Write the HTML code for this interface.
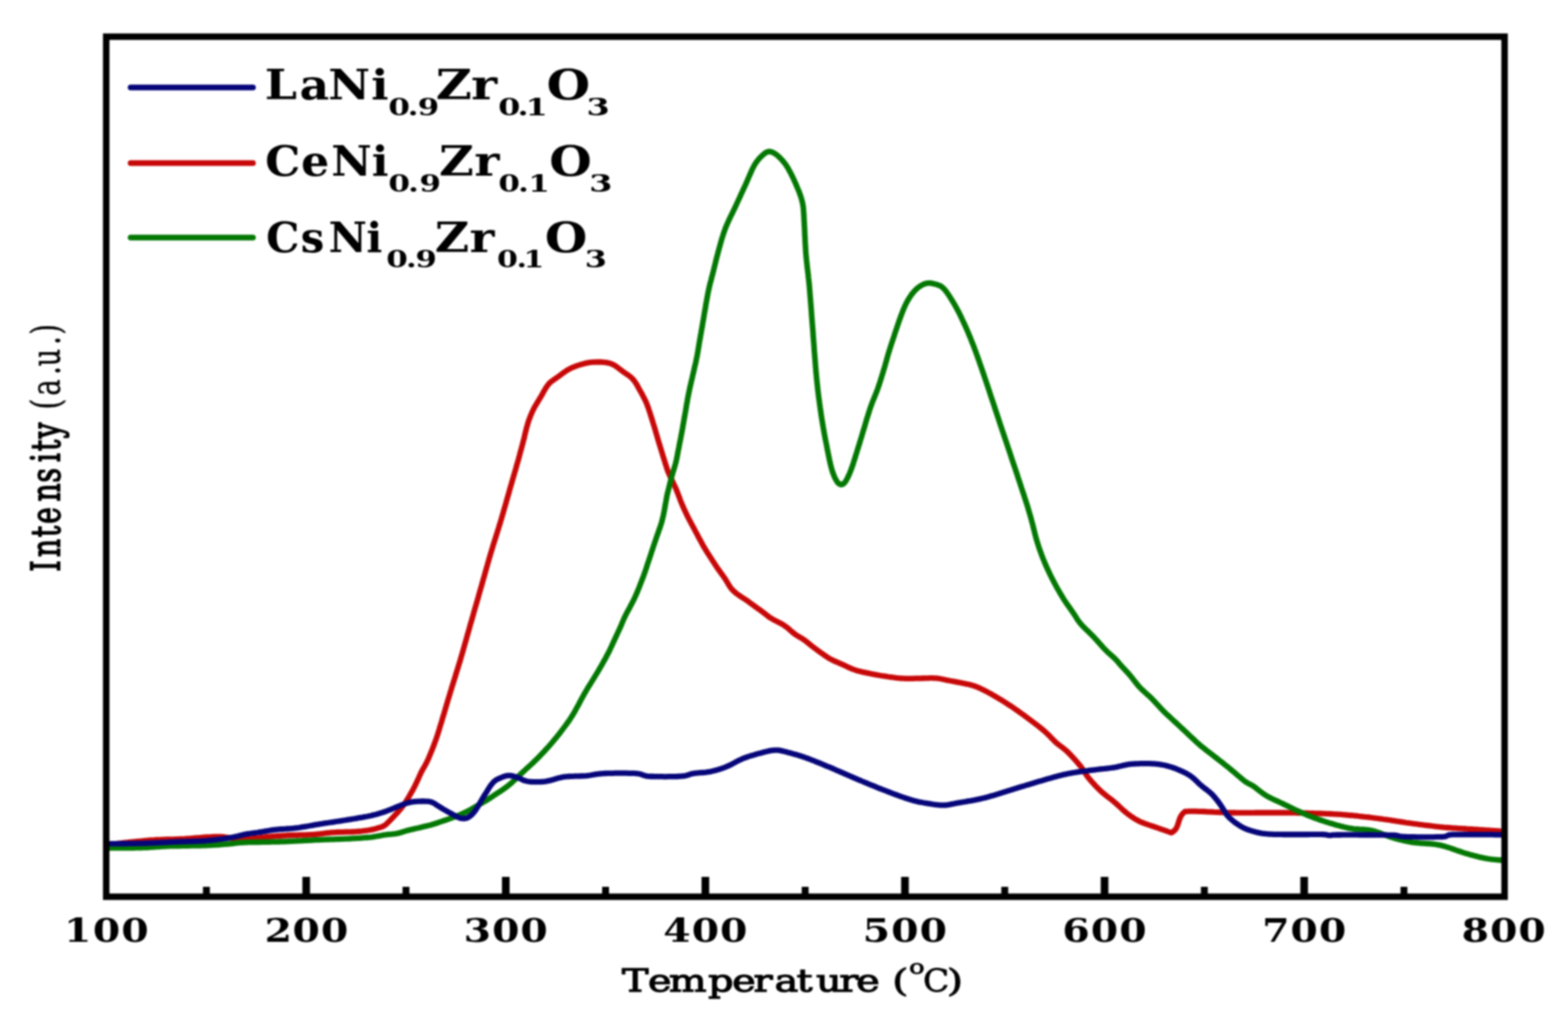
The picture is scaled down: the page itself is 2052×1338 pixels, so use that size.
<!DOCTYPE html><html><head><meta charset="utf-8"><style>html,body{margin:0;padding:0;background:#fff}svg{display:block;filter:blur(0.8px)}</style></head><body>
<svg width="2052" height="1338" viewBox="0 0 2052 1338">
<rect width="2052" height="1338" fill="#fff"/>
<g fill="none" stroke-width="7.3" stroke-linejoin="round" stroke-linecap="round">
<path stroke="#c80808" d="M140.0 1106.0L142.5 1105.7L145.0 1105.4L147.5 1105.1L149.9 1104.8L152.4 1104.5L154.9 1104.2L157.4 1104.0L159.9 1103.7L162.4 1103.4L164.9 1103.1L167.3 1102.8L169.8 1102.5L172.3 1102.3L174.8 1102.0L177.3 1101.8L179.8 1101.5L182.3 1101.3L184.8 1101.1L187.3 1100.8L189.8 1100.6L192.2 1100.4L194.7 1100.2L197.2 1100.0L199.7 1099.8L202.2 1099.7L204.7 1099.5L207.2 1099.4L209.7 1099.3L212.2 1099.2L214.7 1099.1L217.2 1099.0L219.7 1099.0L222.2 1098.9L224.7 1098.8L227.2 1098.8L229.7 1098.7L232.2 1098.6L234.7 1098.5L237.2 1098.4L239.7 1098.3L242.2 1098.2L244.7 1098.0L247.2 1097.8L249.7 1097.6L252.2 1097.4L254.7 1097.2L257.2 1097.0L259.7 1096.8L262.2 1096.6L264.7 1096.4L267.2 1096.2L269.7 1096.0L272.2 1095.9L274.7 1095.8L277.2 1095.6L279.7 1095.5L282.2 1095.5L284.7 1095.4L287.2 1095.5L289.7 1095.5L292.2 1095.7L294.7 1096.0L297.1 1096.3L299.6 1096.7L302.1 1097.1L304.6 1097.4L307.0 1097.8L309.5 1098.2L312.0 1098.6L314.5 1098.8L317.0 1098.9L319.5 1098.9L322.0 1098.8L324.5 1098.6L327.0 1098.4L329.4 1098.1L331.9 1097.7L334.4 1097.4L336.9 1097.1L339.4 1096.8L341.9 1096.4L344.3 1096.1L346.8 1095.9L349.3 1095.6L351.8 1095.4L354.3 1095.2L356.8 1095.0L359.3 1094.8L361.8 1094.6L364.3 1094.4L366.8 1094.3L369.3 1094.1L371.8 1094.0L374.3 1093.8L376.8 1093.7L379.3 1093.6L381.8 1093.5L384.3 1093.4L386.8 1093.3L389.3 1093.3L391.8 1093.2L394.3 1093.2L396.8 1093.1L399.3 1093.1L401.8 1093.0L404.3 1092.9L406.8 1092.7L409.3 1092.6L411.8 1092.3L414.3 1092.1L416.8 1091.8L419.2 1091.6L421.7 1091.3L424.2 1091.0L426.7 1090.7L429.2 1090.4L431.7 1090.2L434.2 1089.9L436.7 1089.8L439.2 1089.6L441.7 1089.5L444.2 1089.4L446.7 1089.3L449.2 1089.3L451.7 1089.2L454.2 1089.2L456.7 1089.1L459.2 1089.1L461.7 1089.0L464.2 1088.9L466.7 1088.7L469.2 1088.5L471.7 1088.3L474.1 1088.0L476.6 1087.7L479.1 1087.4L481.6 1087.0L484.0 1086.6L486.5 1086.1L488.9 1085.6L491.4 1085.0L493.8 1084.3L496.2 1083.6L498.6 1082.9L500.9 1082.0L503.1 1080.8L505.1 1079.3L507.0 1077.6L508.7 1075.8L510.5 1074.0L512.2 1072.2L513.9 1070.4L515.7 1068.6L517.4 1066.8L519.1 1065.0L520.8 1063.1L522.4 1061.2L524.0 1059.3L525.6 1057.4L527.1 1055.4L528.6 1053.4L530.1 1051.3L531.4 1049.2L532.7 1047.1L534.0 1045.0L535.3 1042.8L536.5 1040.6L537.8 1038.5L539.0 1036.3L540.3 1034.1L541.4 1031.9L542.6 1029.7L543.7 1027.4L544.8 1025.2L545.8 1022.9L546.9 1020.6L547.9 1018.4L548.9 1016.1L550.0 1013.8L551.0 1011.5L552.2 1009.3L553.4 1007.1L554.6 1004.9L555.9 1002.8L557.1 1000.6L558.2 998.4L559.3 996.1L560.4 993.8L561.4 991.5L562.3 989.2L563.3 986.9L564.2 984.6L565.2 982.3L566.1 980.0L567.0 977.6L567.9 975.3L568.8 972.9L569.6 970.6L570.5 968.2L571.3 965.9L572.1 963.5L572.9 961.1L573.6 958.7L574.4 956.4L575.1 954.0L575.8 951.6L576.5 949.2L577.3 946.8L578.0 944.4L578.7 942.0L579.4 939.6L580.1 937.2L580.9 934.8L581.6 932.4L582.3 930.0L583.0 927.6L583.7 925.2L584.4 922.8L585.1 920.4L585.8 918.0L586.5 915.6L587.3 913.2L588.0 910.8L588.7 908.4L589.4 906.0L590.2 903.6L590.9 901.2L591.6 898.8L592.4 896.4L593.1 894.1L593.9 891.7L594.6 889.3L595.4 886.9L596.1 884.5L596.8 882.1L597.6 879.7L598.3 877.3L599.1 874.9L599.8 872.5L600.5 870.1L601.3 867.8L602.0 865.4L602.7 863.0L603.4 860.6L604.1 858.2L604.8 855.8L605.5 853.4L606.2 850.9L606.9 848.5L607.6 846.1L608.2 843.7L608.9 841.3L609.6 838.9L610.3 836.5L611.0 834.1L611.6 831.7L612.3 829.3L613.0 826.9L613.7 824.5L614.4 822.1L615.0 819.6L615.7 817.2L616.4 814.8L617.1 812.4L617.8 810.0L618.5 807.6L619.2 805.2L619.8 802.8L620.5 800.4L621.2 798.0L621.9 795.6L622.6 793.2L623.3 790.8L624.0 788.4L624.7 786.0L625.4 783.6L626.1 781.2L626.7 778.7L627.4 776.3L628.1 773.9L628.8 771.5L629.5 769.1L630.2 766.7L630.9 764.3L631.5 761.9L632.2 759.5L632.9 757.1L633.6 754.7L634.3 752.3L634.9 749.9L635.6 747.4L636.3 745.0L637.0 742.6L637.7 740.2L638.3 737.8L639.0 735.4L639.7 733.0L640.4 730.6L641.1 728.2L641.8 725.8L642.5 723.4L643.3 721.0L644.0 718.6L644.7 716.2L645.4 713.8L646.2 711.4L646.9 709.0L647.7 706.7L648.4 704.3L649.2 701.9L649.9 699.5L650.7 697.1L651.4 694.7L652.2 692.3L652.9 689.9L653.6 687.5L654.4 685.2L655.1 682.8L655.8 680.4L656.5 678.0L657.2 675.6L657.9 673.2L658.6 670.7L659.3 668.3L660.0 665.9L660.7 663.5L661.4 661.1L662.1 658.7L662.7 656.3L663.4 653.9L664.1 651.5L664.8 649.1L665.5 646.7L666.2 644.3L666.8 641.9L667.5 639.5L668.2 637.1L668.9 634.7L669.6 632.2L670.3 629.8L671.0 627.4L671.7 625.0L672.4 622.6L673.1 620.2L673.8 617.8L674.5 615.4L675.2 613.0L675.8 610.6L676.5 608.2L677.2 605.8L677.9 603.4L678.6 601.0L679.2 598.6L679.9 596.2L680.5 593.7L681.2 591.3L681.8 588.9L682.5 586.5L683.1 584.1L683.8 581.7L684.4 579.2L685.0 576.8L685.7 574.4L686.3 572.0L686.8 569.5L687.4 567.1L688.0 564.7L688.6 562.2L689.2 559.8L689.9 557.4L690.6 555.0L691.3 552.6L692.1 550.2L693.0 547.9L693.9 545.5L694.8 543.2L695.8 540.9L696.8 538.6L697.9 536.4L699.0 534.1L700.2 531.9L701.5 529.8L702.8 527.6L704.1 525.5L705.4 523.4L706.7 521.2L708.0 519.1L709.2 516.9L710.4 514.7L711.6 512.5L712.9 510.4L714.2 508.2L715.5 506.1L717.0 504.1L718.6 502.2L720.4 500.4L722.4 498.9L724.4 497.4L726.5 496.0L728.5 494.6L730.6 493.1L732.6 491.6L734.6 490.1L736.6 488.6L738.6 487.2L740.7 485.8L742.8 484.4L745.0 483.2L747.2 482.1L749.5 481.0L751.8 480.1L754.1 479.2L756.5 478.4L758.9 477.6L761.3 476.9L763.7 476.2L766.1 475.6L768.6 475.1L771.0 474.7L773.5 474.4L776.0 474.2L778.5 474.1L781.0 474.0L783.5 473.9L786.0 474.0L788.5 474.1L791.0 474.3L793.5 474.6L795.9 475.1L798.4 475.7L800.7 476.6L803.0 477.6L805.2 478.9L807.2 480.3L809.2 481.8L811.2 483.3L813.2 484.9L815.2 486.4L817.2 487.8L819.3 489.2L821.4 490.6L823.4 492.1L825.4 493.6L827.2 495.3L828.9 497.2L830.4 499.1L831.8 501.2L833.2 503.3L834.4 505.5L835.6 507.7L836.8 509.9L838.0 512.1L839.3 514.3L840.5 516.4L841.6 518.7L842.8 520.9L843.9 523.1L845.0 525.4L846.0 527.7L846.9 530.0L847.8 532.3L848.6 534.7L849.4 537.1L850.2 539.4L851.0 541.8L851.7 544.2L852.5 546.6L853.2 549.0L854.0 551.4L854.7 553.8L855.4 556.2L856.2 558.6L856.9 560.9L857.6 563.3L858.3 565.7L859.0 568.2L859.7 570.6L860.4 573.0L861.1 575.4L861.8 577.8L862.5 580.2L863.3 582.5L864.0 584.9L864.7 587.3L865.4 589.7L866.2 592.1L866.9 594.5L867.6 596.9L868.4 599.3L869.1 601.7L869.9 604.1L870.6 606.5L871.4 608.9L872.1 611.2L872.9 613.6L873.7 616.0L874.6 618.3L875.6 620.6L876.6 622.9L877.7 625.2L878.8 627.4L879.8 629.7L880.9 631.9L882.0 634.2L883.1 636.5L884.1 638.7L885.1 641.0L886.0 643.4L886.9 645.7L887.8 648.0L888.7 650.4L889.6 652.7L890.4 655.1L891.4 657.4L892.3 659.7L893.3 662.0L894.3 664.3L895.3 666.6L896.4 668.9L897.4 671.1L898.5 673.4L899.6 675.6L900.7 677.9L901.9 680.1L903.0 682.3L904.2 684.5L905.4 686.7L906.6 688.9L907.7 691.1L908.9 693.3L910.1 695.6L911.3 697.8L912.5 700.0L913.6 702.2L914.8 704.4L916.0 706.6L917.2 708.8L918.4 711.0L919.6 713.2L920.8 715.4L922.1 717.5L923.4 719.6L924.7 721.8L926.0 723.9L927.4 726.0L928.7 728.1L930.1 730.2L931.4 732.3L932.8 734.4L934.2 736.5L935.5 738.6L936.9 740.7L938.3 742.8L939.7 744.8L941.2 746.9L942.6 748.9L944.1 751.0L945.6 753.0L947.0 755.0L948.5 757.1L949.8 759.2L951.1 761.3L952.4 763.5L953.6 765.6L955.0 767.7L956.4 769.8L958.0 771.7L959.8 773.5L961.6 775.2L963.6 776.8L965.6 778.3L967.6 779.7L969.7 781.1L971.8 782.5L973.9 783.8L976.0 785.2L978.0 786.6L980.1 788.1L982.1 789.6L984.1 791.1L986.1 792.5L988.1 794.0L990.2 795.5L992.2 796.9L994.2 798.4L996.3 799.8L998.3 801.3L1000.3 802.9L1002.2 804.4L1004.2 806.0L1006.2 807.5L1008.2 808.9L1010.4 810.2L1012.5 811.5L1014.7 812.6L1017.0 813.7L1019.2 814.9L1021.5 816.0L1023.7 817.2L1025.8 818.5L1027.8 819.9L1029.8 821.4L1031.8 823.0L1033.6 824.7L1035.5 826.3L1037.4 828.0L1039.4 829.5L1041.4 831.0L1043.5 832.3L1045.7 833.6L1047.8 834.9L1050.0 836.2L1052.1 837.6L1054.1 839.0L1056.1 840.6L1058.0 842.1L1059.9 843.7L1061.9 845.3L1063.9 846.8L1065.9 848.3L1067.9 849.8L1069.9 851.3L1071.9 852.8L1073.9 854.3L1076.0 855.7L1078.0 857.2L1080.1 858.6L1082.1 860.0L1084.2 861.3L1086.4 862.6L1088.6 863.8L1090.9 864.9L1093.1 865.9L1095.4 866.9L1097.7 867.9L1100.0 868.9L1102.3 869.9L1104.6 870.9L1106.9 872.0L1109.1 873.1L1111.4 874.1L1113.7 875.1L1116.0 876.1L1118.4 876.9L1120.7 877.7L1123.1 878.4L1125.6 879.0L1128.0 879.6L1130.4 880.1L1132.9 880.6L1135.3 881.2L1137.8 881.7L1140.2 882.2L1142.7 882.7L1145.1 883.2L1147.6 883.6L1150.1 884.0L1152.5 884.5L1155.0 884.9L1157.5 885.2L1160.0 885.6L1162.4 886.0L1164.9 886.3L1167.4 886.7L1169.9 887.0L1172.3 887.4L1174.8 887.7L1177.3 887.9L1179.8 888.1L1182.3 888.2L1184.8 888.3L1187.3 888.3L1189.8 888.3L1192.3 888.3L1194.8 888.3L1197.3 888.2L1199.8 888.2L1202.3 888.1L1204.8 888.1L1207.3 888.0L1209.8 887.9L1212.3 887.8L1214.8 887.8L1217.3 887.7L1219.8 887.7L1222.3 887.8L1224.8 887.9L1227.3 888.1L1229.8 888.5L1232.3 889.0L1234.7 889.5L1237.1 890.0L1239.6 890.6L1242.1 891.0L1244.5 891.5L1247.0 891.9L1249.4 892.3L1251.9 892.8L1254.4 893.3L1256.8 893.8L1259.3 894.3L1261.7 894.8L1264.2 895.3L1266.6 895.8L1269.1 896.3L1271.5 897.0L1273.9 897.7L1276.2 898.5L1278.6 899.4L1280.9 900.4L1283.2 901.4L1285.4 902.5L1287.7 903.6L1289.9 904.7L1292.1 905.9L1294.3 907.1L1296.5 908.3L1298.7 909.5L1300.8 910.8L1303.0 912.0L1305.2 913.3L1307.3 914.6L1309.5 915.9L1311.6 917.2L1313.7 918.5L1315.8 919.8L1317.9 921.2L1320.0 922.6L1322.1 923.9L1324.2 925.3L1326.3 926.7L1328.3 928.2L1330.4 929.6L1332.4 931.0L1334.5 932.5L1336.5 933.9L1338.6 935.4L1340.6 936.8L1342.6 938.3L1344.6 939.8L1346.6 941.3L1348.6 942.8L1350.6 944.3L1352.6 945.8L1354.6 947.3L1356.6 948.9L1358.6 950.4L1360.5 952.0L1362.5 953.5L1364.4 955.1L1366.3 956.7L1368.2 958.4L1370.0 960.1L1371.8 961.8L1373.6 963.6L1375.3 965.4L1377.0 967.2L1378.8 969.0L1380.5 970.8L1382.4 972.5L1384.3 974.1L1386.3 975.6L1388.3 977.1L1390.3 978.6L1392.3 980.2L1394.2 981.8L1396.1 983.4L1397.9 985.2L1399.6 986.9L1401.4 988.7L1403.1 990.6L1404.8 992.4L1406.5 994.3L1408.1 996.1L1409.8 998.0L1411.4 999.9L1413.0 1001.8L1414.5 1003.8L1416.0 1005.8L1417.4 1007.9L1418.8 1010.0L1420.1 1012.1L1421.5 1014.2L1422.9 1016.3L1424.4 1018.3L1426.0 1020.2L1427.6 1022.1L1429.3 1024.0L1431.0 1025.8L1432.7 1027.7L1434.4 1029.5L1436.1 1031.3L1437.9 1033.0L1439.7 1034.8L1441.5 1036.5L1443.4 1038.1L1445.3 1039.7L1447.3 1041.3L1449.2 1042.9L1451.2 1044.4L1453.2 1045.9L1455.2 1047.4L1457.1 1049.0L1459.0 1050.6L1460.9 1052.3L1462.8 1054.0L1464.6 1055.7L1466.4 1057.4L1468.3 1059.1L1470.1 1060.8L1472.0 1062.4L1473.9 1064.0L1475.9 1065.6L1477.9 1067.1L1479.9 1068.5L1482.0 1069.9L1484.1 1071.3L1486.2 1072.6L1488.4 1073.8L1490.6 1075.0L1492.9 1076.1L1495.2 1077.0L1497.5 1077.9L1499.9 1078.8L1502.2 1079.6L1504.6 1080.4L1507.0 1081.2L1509.4 1082.0L1511.7 1082.8L1514.1 1083.6L1516.5 1084.4L1518.8 1085.3L1521.2 1086.1L1523.5 1086.9L1525.9 1087.7L1528.3 1088.6L1530.6 1089.4L1533.0 1090.2L1535.2 1088.8L1537.2 1087.1L1538.9 1085.1L1540.1 1082.8L1541.1 1080.4L1541.9 1077.9L1542.7 1075.4L1543.5 1072.9L1544.4 1070.5L1545.6 1068.2L1547.1 1066.0L1548.9 1064.1L1550.8 1062.3L1553.3 1062.3L1555.8 1062.2L1558.3 1062.2L1560.8 1062.2L1563.3 1062.2L1565.8 1062.2L1568.3 1062.3L1570.8 1062.3L1573.3 1062.4L1575.8 1062.5L1578.3 1062.6L1580.8 1062.8L1583.3 1062.9L1585.8 1063.0L1588.3 1063.2L1590.8 1063.3L1593.3 1063.4L1595.8 1063.5L1598.3 1063.6L1600.8 1063.7L1603.3 1063.8L1605.8 1063.9L1608.3 1063.9L1610.8 1064.0L1613.3 1064.0L1615.8 1064.0L1618.3 1064.1L1620.8 1064.1L1623.3 1064.1L1625.8 1064.1L1628.3 1064.1L1630.8 1064.1L1633.3 1064.1L1635.8 1064.1L1638.3 1064.1L1640.8 1064.1L1643.3 1064.0L1645.8 1064.0L1648.3 1064.0L1650.8 1064.0L1653.3 1064.0L1655.8 1064.0L1658.3 1064.0L1660.8 1064.0L1663.3 1064.0L1665.8 1064.0L1668.3 1064.0L1670.8 1064.0L1673.3 1064.0L1675.8 1064.0L1678.3 1064.0L1680.8 1064.0L1683.3 1064.0L1685.8 1064.1L1688.3 1064.1L1690.8 1064.1L1693.3 1064.2L1695.8 1064.2L1698.3 1064.3L1700.8 1064.3L1703.3 1064.3L1705.8 1064.4L1708.3 1064.5L1710.8 1064.5L1713.3 1064.6L1715.8 1064.6L1718.3 1064.7L1720.8 1064.8L1723.3 1064.8L1725.8 1064.9L1728.3 1065.0L1730.8 1065.1L1733.3 1065.2L1735.8 1065.3L1738.3 1065.4L1740.7 1065.5L1743.2 1065.6L1745.7 1065.8L1748.2 1065.9L1750.7 1066.1L1753.2 1066.2L1755.7 1066.4L1758.2 1066.6L1760.7 1066.8L1763.2 1067.0L1765.7 1067.3L1768.2 1067.5L1770.7 1067.7L1773.2 1068.0L1775.6 1068.2L1778.1 1068.5L1780.6 1068.8L1783.1 1069.1L1785.6 1069.4L1788.1 1069.6L1790.5 1069.9L1793.0 1070.2L1795.5 1070.5L1798.0 1070.9L1800.5 1071.2L1802.9 1071.5L1805.4 1071.8L1807.9 1072.1L1810.4 1072.5L1812.9 1072.8L1815.3 1073.2L1817.8 1073.5L1820.3 1073.9L1822.7 1074.3L1825.2 1074.7L1827.7 1075.1L1830.2 1075.4L1832.6 1075.8L1835.1 1076.2L1837.6 1076.6L1840.0 1077.0L1842.5 1077.3L1845.0 1077.7L1847.5 1078.0L1849.9 1078.4L1852.4 1078.7L1854.9 1079.0L1857.4 1079.4L1859.9 1079.7L1862.3 1080.0L1864.8 1080.3L1867.3 1080.6L1869.8 1080.9L1872.3 1081.2L1874.7 1081.5L1877.2 1081.8L1879.7 1082.1L1882.2 1082.3L1884.7 1082.6L1887.2 1082.8L1889.7 1083.1L1892.2 1083.3L1894.6 1083.5L1897.1 1083.7L1899.6 1083.9L1902.1 1084.1L1904.6 1084.2L1907.1 1084.4L1909.6 1084.6L1912.1 1084.7L1914.6 1084.9L1917.1 1085.0L1919.6 1085.2L1922.1 1085.3L1924.6 1085.4L1927.1 1085.6L1929.6 1085.8L1932.1 1085.9L1934.6 1086.1L1937.1 1086.3L1939.6 1086.4L1942.0 1086.6L1944.5 1086.8L1947.0 1086.9L1949.5 1087.1L1952.0 1087.3L1954.5 1087.5L1957.0 1087.6L1959.5 1087.8L1962.0 1088.0"/>
<path stroke="#037803" d="M140.0 1110.0L142.5 1110.0L145.0 1110.0L147.5 1110.0L150.0 1110.0L152.5 1110.0L155.0 1110.0L157.5 1110.0L160.0 1110.0L162.5 1110.0L165.0 1110.0L167.5 1110.0L170.0 1110.0L172.5 1110.0L175.0 1110.0L177.5 1109.9L180.0 1109.9L182.5 1109.8L185.0 1109.8L187.5 1109.7L190.0 1109.6L192.5 1109.5L195.0 1109.3L197.5 1109.2L200.0 1109.0L202.5 1108.8L205.0 1108.6L207.5 1108.5L210.0 1108.3L212.5 1108.2L215.0 1108.0L217.5 1107.9L220.0 1107.8L222.5 1107.7L225.0 1107.7L227.5 1107.6L230.0 1107.5L232.5 1107.5L235.0 1107.5L237.5 1107.4L240.0 1107.4L242.5 1107.3L245.0 1107.3L247.5 1107.3L250.0 1107.2L252.5 1107.2L255.0 1107.2L257.5 1107.1L260.0 1107.1L262.5 1107.0L265.0 1106.9L267.5 1106.9L270.0 1106.8L272.5 1106.7L275.0 1106.6L277.5 1106.4L280.0 1106.3L282.5 1106.2L285.0 1106.0L287.5 1105.8L290.0 1105.6L292.5 1105.4L295.0 1105.2L297.5 1105.0L300.0 1104.8L302.4 1104.5L304.9 1104.3L307.4 1104.0L309.9 1103.7L312.4 1103.4L314.9 1103.2L317.4 1103.1L319.9 1102.9L322.4 1102.8L324.9 1102.7L327.4 1102.7L329.9 1102.6L332.4 1102.6L334.9 1102.5L337.4 1102.5L339.9 1102.5L342.4 1102.4L344.9 1102.4L347.4 1102.4L349.9 1102.3L352.4 1102.3L354.9 1102.2L357.4 1102.2L359.9 1102.1L362.4 1102.1L364.9 1102.0L367.4 1101.9L369.9 1101.9L372.4 1101.8L374.9 1101.7L377.4 1101.5L379.9 1101.4L382.4 1101.3L384.9 1101.2L387.4 1101.1L389.9 1100.9L392.4 1100.8L394.9 1100.7L397.4 1100.5L399.9 1100.4L402.4 1100.3L404.9 1100.1L407.4 1100.0L409.9 1099.9L412.4 1099.7L414.9 1099.6L417.4 1099.5L419.9 1099.4L422.4 1099.3L424.9 1099.2L427.4 1099.1L429.9 1099.0L432.4 1098.9L434.9 1098.8L437.4 1098.8L439.9 1098.7L442.4 1098.6L444.9 1098.5L447.4 1098.4L449.9 1098.3L452.4 1098.2L454.9 1098.1L457.4 1098.0L459.9 1097.8L462.4 1097.7L464.9 1097.6L467.4 1097.4L469.9 1097.3L472.3 1097.1L474.8 1096.9L477.3 1096.7L479.8 1096.5L482.3 1096.3L484.8 1096.1L487.3 1095.8L489.8 1095.4L492.2 1095.0L494.7 1094.6L497.2 1094.2L499.6 1093.7L502.1 1093.2L504.6 1092.9L507.0 1092.5L509.5 1092.3L512.0 1092.1L514.5 1091.8L517.0 1091.6L519.5 1091.2L521.9 1090.6L524.3 1090.0L526.7 1089.2L529.1 1088.5L531.5 1087.8L533.9 1087.1L536.3 1086.5L538.8 1085.9L541.2 1085.4L543.6 1084.8L546.1 1084.2L548.5 1083.7L551.0 1083.1L553.4 1082.5L555.8 1081.9L558.3 1081.4L560.7 1080.8L563.1 1080.2L565.5 1079.5L567.9 1078.8L570.3 1078.0L572.7 1077.2L575.0 1076.4L577.4 1075.6L579.8 1074.8L582.2 1074.0L584.5 1073.2L586.9 1072.4L589.2 1071.6L591.6 1070.7L593.9 1069.8L596.3 1069.0L598.6 1068.0L600.9 1067.1L603.2 1066.1L605.5 1065.1L607.8 1064.0L610.0 1062.9L612.3 1061.8L614.5 1060.6L616.7 1059.4L618.8 1058.2L621.0 1057.0L623.2 1055.7L625.3 1054.5L627.5 1053.2L629.7 1051.9L631.8 1050.6L634.0 1049.4L636.1 1048.1L638.2 1046.8L640.4 1045.4L642.5 1044.1L644.5 1042.7L646.6 1041.3L648.7 1039.9L650.8 1038.5L652.9 1037.1L655.0 1035.8L657.0 1034.4L659.1 1033.0L661.2 1031.5L663.2 1030.1L665.1 1028.5L667.1 1026.9L669.0 1025.3L670.8 1023.6L672.6 1021.9L674.5 1020.2L676.3 1018.4L678.1 1016.7L679.9 1015.0L681.7 1013.2L683.5 1011.5L685.3 1009.8L687.1 1008.1L689.0 1006.4L690.8 1004.8L692.7 1003.1L694.5 1001.4L696.4 999.7L698.2 998.0L700.0 996.2L701.8 994.5L703.6 992.7L705.3 990.9L707.1 989.1L708.8 987.3L710.5 985.5L712.2 983.7L713.9 981.8L715.6 980.0L717.3 978.1L718.9 976.3L720.6 974.4L722.2 972.5L723.8 970.6L725.4 968.7L727.0 966.7L728.6 964.8L730.2 962.8L731.7 960.9L733.3 958.9L734.8 956.9L736.3 954.9L737.8 952.9L739.3 950.9L740.8 948.9L742.2 946.9L743.7 944.8L745.1 942.8L746.5 940.7L747.9 938.6L749.2 936.5L750.5 934.4L751.8 932.2L753.0 930.0L754.2 927.8L755.4 925.6L756.6 923.4L757.8 921.2L758.9 919.0L760.1 916.8L761.3 914.6L762.5 912.4L763.7 910.2L764.9 908.0L766.2 905.9L767.4 903.7L768.7 901.6L770.0 899.4L771.3 897.3L772.7 895.2L774.0 893.0L775.3 890.9L776.6 888.8L777.9 886.7L779.2 884.5L780.5 882.4L781.8 880.3L783.1 878.1L784.4 875.9L785.6 873.8L786.9 871.6L788.1 869.4L789.3 867.2L790.5 865.1L791.8 862.9L793.0 860.7L794.1 858.5L795.3 856.3L796.5 854.0L797.6 851.8L798.7 849.5L799.7 847.3L800.8 845.0L801.8 842.7L802.9 840.5L803.9 838.2L805.0 835.9L806.0 833.7L807.1 831.4L808.1 829.1L809.2 826.9L810.2 824.6L811.3 822.3L812.3 820.0L813.3 817.7L814.2 815.4L815.2 813.1L816.2 810.8L817.2 808.5L818.3 806.3L819.4 804.0L820.6 801.8L821.8 799.6L823.0 797.4L824.2 795.2L825.3 793.0L826.5 790.8L827.6 788.6L828.8 786.4L829.9 784.1L831.0 781.8L832.0 779.6L833.0 777.3L834.0 775.0L834.9 772.7L835.9 770.3L836.8 768.0L837.7 765.7L838.6 763.4L839.5 761.0L840.4 758.7L841.3 756.4L842.2 754.0L843.0 751.7L843.9 749.3L844.7 746.9L845.5 744.6L846.3 742.2L847.0 739.8L847.8 737.4L848.6 735.1L849.4 732.7L850.2 730.3L851.0 727.9L851.8 725.6L852.5 723.2L853.3 720.8L854.1 718.4L854.9 716.1L855.7 713.7L856.5 711.3L857.3 708.9L858.1 706.6L858.9 704.2L859.7 701.8L860.5 699.5L861.4 697.1L862.2 694.8L863.0 692.4L863.9 690.0L864.6 687.7L865.4 685.3L866.1 682.9L866.7 680.5L867.3 678.0L867.9 675.6L868.4 673.2L868.9 670.7L869.4 668.2L869.8 665.8L870.3 663.3L870.7 660.9L871.1 658.4L871.6 655.9L872.0 653.5L872.5 651.0L872.9 648.5L873.5 646.1L874.1 643.7L874.7 641.3L875.3 638.8L875.9 636.4L876.5 634.0L877.1 631.6L877.7 629.1L878.3 626.7L879.0 624.3L879.6 621.9L880.3 619.5L881.0 617.1L881.8 614.7L882.5 612.3L883.2 609.9L883.9 607.5L884.5 605.1L885.1 602.6L885.6 600.2L886.1 597.7L886.6 595.3L887.0 592.8L887.5 590.3L888.0 587.9L888.5 585.4L888.9 583.0L889.4 580.5L889.9 578.1L890.4 575.6L890.9 573.2L891.3 570.7L891.8 568.2L892.3 565.8L892.7 563.3L893.2 560.9L893.6 558.4L894.0 555.9L894.5 553.5L894.9 551.0L895.3 548.5L895.8 546.1L896.2 543.6L896.6 541.2L897.1 538.7L897.5 536.2L897.9 533.8L898.3 531.3L898.7 528.8L899.2 526.4L899.6 523.9L900.0 521.4L900.5 519.0L901.0 516.5L901.5 514.1L902.0 511.6L902.5 509.2L903.0 506.7L903.6 504.3L904.2 501.9L904.7 499.4L905.3 497.0L905.9 494.5L906.4 492.1L907.0 489.7L907.6 487.2L908.1 484.8L908.7 482.4L909.2 479.9L909.8 477.5L910.4 475.0L910.9 472.6L911.4 470.1L911.9 467.7L912.4 465.2L912.8 462.8L913.3 460.3L913.7 457.9L914.1 455.4L914.5 452.9L914.9 450.4L915.3 448.0L915.7 445.5L916.2 443.0L916.6 440.6L917.0 438.1L917.5 435.7L917.9 433.2L918.3 430.7L918.8 428.3L919.2 425.8L919.6 423.3L920.0 420.9L920.5 418.4L920.9 415.9L921.3 413.5L921.7 411.0L922.1 408.5L922.6 406.1L923.0 403.6L923.4 401.1L923.8 398.7L924.2 396.2L924.7 393.7L925.1 391.3L925.6 388.8L926.0 386.4L926.5 383.9L927.0 381.5L927.5 379.0L928.1 376.6L928.6 374.1L929.2 371.7L929.8 369.3L930.5 366.9L931.1 364.4L931.7 362.0L932.4 359.6L933.0 357.2L933.6 354.8L934.2 352.3L934.8 349.9L935.4 347.5L936.0 345.0L936.6 342.6L937.2 340.2L937.8 337.8L938.4 335.3L939.1 332.9L939.7 330.5L940.4 328.1L941.0 325.7L941.7 323.3L942.4 320.8L943.0 318.4L943.7 316.0L944.4 313.6L945.1 311.2L945.9 308.8L946.6 306.5L947.4 304.1L948.3 301.7L949.1 299.4L950.0 297.0L951.0 294.7L952.0 292.4L953.0 290.2L954.0 287.9L955.1 285.6L956.2 283.4L957.3 281.1L958.4 278.9L959.5 276.6L960.6 274.4L961.7 272.1L962.7 269.8L963.8 267.6L964.8 265.3L965.9 263.0L966.9 260.8L968.0 258.5L969.0 256.2L970.0 253.9L971.1 251.7L972.1 249.4L973.2 247.1L974.2 244.8L975.3 242.6L976.3 240.3L977.3 238.0L978.3 235.7L979.3 233.4L980.3 231.1L981.3 228.8L982.3 226.5L983.3 224.2L984.3 222.0L985.4 219.7L986.6 217.5L987.8 215.3L989.2 213.2L990.6 211.2L992.2 209.2L993.8 207.3L995.5 205.5L997.3 203.8L999.2 202.1L1001.1 200.5L1003.3 199.3L1005.7 198.5L1008.2 198.5L1010.6 199.2L1012.8 200.3L1014.9 201.6L1016.9 203.1L1018.8 204.8L1020.6 206.5L1022.4 208.3L1024.0 210.1L1025.6 212.1L1027.2 214.0L1028.6 216.1L1030.0 218.2L1031.3 220.3L1032.5 222.5L1033.7 224.7L1034.9 226.9L1036.0 229.1L1037.1 231.4L1038.2 233.6L1039.2 235.9L1040.3 238.2L1041.3 240.5L1042.3 242.8L1043.2 245.1L1044.2 247.4L1045.2 249.7L1046.1 252.0L1046.9 254.4L1047.8 256.7L1048.5 259.1L1049.2 261.5L1049.8 263.9L1050.4 266.4L1050.8 268.8L1051.2 271.3L1051.4 273.8L1051.6 276.3L1051.8 278.8L1051.9 281.3L1052.1 283.8L1052.2 286.3L1052.3 288.8L1052.5 291.3L1052.6 293.8L1052.7 296.3L1052.9 298.8L1053.0 301.3L1053.1 303.8L1053.2 306.3L1053.3 308.8L1053.5 311.3L1053.6 313.8L1053.7 316.3L1053.8 318.8L1054.0 321.3L1054.1 323.8L1054.3 326.3L1054.4 328.8L1054.6 331.2L1054.8 333.7L1055.0 336.2L1055.3 338.7L1055.5 341.2L1055.8 343.7L1056.1 346.2L1056.3 348.7L1056.6 351.2L1056.9 353.6L1057.2 356.1L1057.5 358.6L1057.8 361.1L1058.0 363.6L1058.3 366.1L1058.6 368.6L1058.8 371.0L1059.1 373.5L1059.3 376.0L1059.5 378.5L1059.7 381.0L1059.9 383.5L1060.1 386.0L1060.3 388.5L1060.5 391.0L1060.7 393.5L1060.9 396.0L1061.1 398.5L1061.3 401.0L1061.5 403.5L1061.7 406.0L1061.9 408.4L1062.0 410.9L1062.2 413.4L1062.4 415.9L1062.6 418.4L1062.8 420.9L1063.0 423.4L1063.2 425.9L1063.4 428.4L1063.6 430.9L1063.8 433.4L1064.0 435.9L1064.1 438.4L1064.3 440.9L1064.5 443.4L1064.7 445.9L1064.9 448.4L1065.1 450.9L1065.3 453.3L1065.4 455.8L1065.6 458.3L1065.8 460.8L1066.0 463.3L1066.2 465.8L1066.4 468.3L1066.6 470.8L1066.8 473.3L1067.0 475.8L1067.2 478.3L1067.4 480.8L1067.6 483.3L1067.8 485.8L1068.0 488.3L1068.3 490.8L1068.5 493.2L1068.7 495.7L1069.0 498.2L1069.2 500.7L1069.5 503.2L1069.8 505.7L1070.0 508.2L1070.3 510.7L1070.6 513.1L1070.9 515.6L1071.2 518.1L1071.5 520.6L1071.9 523.1L1072.2 525.6L1072.5 528.0L1072.9 530.5L1073.2 533.0L1073.6 535.5L1073.9 537.9L1074.3 540.4L1074.6 542.9L1075.0 545.4L1075.4 547.8L1075.8 550.3L1076.2 552.8L1076.6 555.2L1077.0 557.7L1077.4 560.2L1077.9 562.6L1078.3 565.1L1078.7 567.6L1079.2 570.0L1079.6 572.5L1080.1 574.9L1080.6 577.4L1081.1 579.9L1081.6 582.3L1082.1 584.8L1082.5 587.2L1083.0 589.7L1083.5 592.1L1084.0 594.6L1084.5 597.0L1085.0 599.5L1085.5 601.9L1086.0 604.4L1086.6 606.8L1087.1 609.2L1087.8 611.7L1088.4 614.1L1089.1 616.5L1089.9 618.9L1090.8 621.2L1091.7 623.5L1092.7 625.8L1093.9 628.0L1095.2 630.2L1096.7 632.2L1098.6 633.8L1100.9 634.5L1103.3 633.8L1105.2 632.1L1106.7 630.1L1107.9 627.9L1109.1 625.7L1110.2 623.5L1111.2 621.2L1112.2 618.9L1113.1 616.6L1114.0 614.2L1114.9 611.9L1115.7 609.5L1116.5 607.2L1117.2 604.8L1118.0 602.4L1118.8 600.0L1119.5 597.6L1120.2 595.2L1121.0 592.8L1121.7 590.4L1122.4 588.0L1123.2 585.7L1123.9 583.3L1124.7 580.9L1125.4 578.5L1126.1 576.1L1126.9 573.7L1127.6 571.3L1128.3 568.9L1129.0 566.5L1129.7 564.1L1130.5 561.7L1131.2 559.3L1131.9 556.9L1132.6 554.5L1133.3 552.1L1134.0 549.7L1134.7 547.3L1135.5 544.9L1136.2 542.6L1137.0 540.2L1137.7 537.8L1138.5 535.4L1139.3 533.0L1140.2 530.7L1141.0 528.3L1141.9 526.0L1142.8 523.7L1143.8 521.4L1144.7 519.0L1145.7 516.7L1146.6 514.4L1147.5 512.1L1148.4 509.7L1149.2 507.4L1150.0 505.0L1150.8 502.6L1151.6 500.2L1152.3 497.9L1153.1 495.5L1153.8 493.1L1154.6 490.7L1155.3 488.3L1156.0 485.9L1156.7 483.5L1157.5 481.1L1158.2 478.7L1158.8 476.3L1159.5 473.9L1160.2 471.5L1160.9 469.1L1161.5 466.7L1162.2 464.3L1162.9 461.9L1163.7 459.5L1164.4 457.1L1165.2 454.7L1165.9 452.3L1166.7 449.9L1167.5 447.6L1168.3 445.2L1169.1 442.8L1169.9 440.4L1170.6 438.1L1171.4 435.7L1172.2 433.3L1173.0 431.0L1173.8 428.6L1174.6 426.2L1175.4 423.8L1176.2 421.5L1177.0 419.1L1177.9 416.8L1178.7 414.4L1179.6 412.1L1180.5 409.7L1181.4 407.4L1182.3 405.1L1183.3 402.8L1184.3 400.5L1185.4 398.2L1186.5 396.0L1187.7 393.8L1189.0 391.6L1190.3 389.5L1191.7 387.4L1193.1 385.4L1194.7 383.4L1196.3 381.5L1198.0 379.7L1199.8 378.0L1201.7 376.4L1203.8 374.9L1205.9 373.6L1208.1 372.4L1210.4 371.5L1212.9 370.9L1215.3 370.6L1217.8 370.7L1220.3 371.1L1222.7 371.7L1225.2 372.3L1227.5 373.1L1229.9 374.0L1232.0 375.2L1234.0 376.8L1235.8 378.6L1237.4 380.5L1238.9 382.5L1240.3 384.5L1241.7 386.6L1243.1 388.7L1244.4 390.8L1245.7 392.9L1247.0 395.1L1248.3 397.2L1249.6 399.4L1250.8 401.6L1252.0 403.8L1253.2 406.0L1254.4 408.2L1255.5 410.4L1256.6 412.6L1257.7 414.9L1258.8 417.2L1259.8 419.4L1260.9 421.7L1261.9 424.0L1263.0 426.2L1264.0 428.5L1265.0 430.8L1266.0 433.1L1267.0 435.4L1267.9 437.7L1268.9 440.0L1269.9 442.3L1270.8 444.7L1271.7 447.0L1272.6 449.3L1273.6 451.6L1274.5 454.0L1275.3 456.3L1276.2 458.7L1277.1 461.0L1277.9 463.3L1278.8 465.7L1279.6 468.1L1280.5 470.4L1281.3 472.8L1282.1 475.1L1282.9 477.5L1283.8 479.9L1284.6 482.2L1285.4 484.6L1286.2 487.0L1287.0 489.3L1287.8 491.7L1288.6 494.1L1289.4 496.4L1290.2 498.8L1291.0 501.2L1291.8 503.5L1292.6 505.9L1293.4 508.3L1294.2 510.7L1295.0 513.0L1295.7 515.4L1296.5 517.8L1297.3 520.2L1298.1 522.5L1298.9 524.9L1299.7 527.3L1300.5 529.7L1301.3 532.0L1302.0 534.4L1302.8 536.8L1303.6 539.2L1304.4 541.5L1305.2 543.9L1306.0 546.3L1306.8 548.7L1307.5 551.0L1308.3 553.4L1309.1 555.8L1309.9 558.2L1310.7 560.5L1311.5 562.9L1312.3 565.3L1313.1 567.6L1313.9 570.0L1314.7 572.4L1315.5 574.8L1316.3 577.1L1317.1 579.5L1317.9 581.9L1318.7 584.3L1319.5 586.6L1320.3 589.0L1321.1 591.4L1321.9 593.7L1322.7 596.1L1323.4 598.5L1324.2 600.9L1325.0 603.2L1325.8 605.6L1326.6 608.0L1327.4 610.3L1328.2 612.7L1329.0 615.1L1329.8 617.5L1330.6 619.8L1331.4 622.2L1332.1 624.6L1332.9 627.0L1333.7 629.3L1334.5 631.7L1335.3 634.1L1336.1 636.5L1336.8 638.8L1337.6 641.2L1338.4 643.6L1339.2 646.0L1340.0 648.3L1340.7 650.7L1341.5 653.1L1342.3 655.5L1343.1 657.9L1343.8 660.2L1344.6 662.6L1345.3 665.0L1346.0 667.4L1346.7 669.8L1347.4 672.2L1348.1 674.6L1348.8 677.0L1349.5 679.4L1350.1 681.9L1350.8 684.3L1351.4 686.7L1352.0 689.1L1352.6 691.5L1353.2 694.0L1353.8 696.4L1354.4 698.8L1355.0 701.3L1355.7 703.7L1356.3 706.1L1357.1 708.5L1357.8 710.9L1358.6 713.3L1359.3 715.6L1360.1 718.0L1360.9 720.4L1361.8 722.7L1362.6 725.1L1363.5 727.4L1364.4 729.8L1365.3 732.1L1366.3 734.4L1367.2 736.7L1368.2 739.0L1369.2 741.3L1370.2 743.6L1371.3 745.9L1372.3 748.1L1373.4 750.4L1374.5 752.7L1375.6 754.9L1376.7 757.1L1377.9 759.4L1379.0 761.6L1380.2 763.8L1381.4 766.0L1382.6 768.2L1383.8 770.4L1385.0 772.5L1386.3 774.7L1387.5 776.9L1388.8 779.0L1390.1 781.2L1391.4 783.3L1392.7 785.4L1394.1 787.5L1395.5 789.6L1396.9 791.6L1398.4 793.7L1399.8 795.7L1401.3 797.7L1402.7 799.8L1404.1 801.8L1405.5 803.9L1406.9 806.0L1408.2 808.2L1409.5 810.3L1410.9 812.4L1412.4 814.4L1414.0 816.3L1415.6 818.2L1417.3 820.0L1419.1 821.8L1420.9 823.6L1422.7 825.3L1424.5 827.0L1426.3 828.8L1428.0 830.5L1429.8 832.3L1431.5 834.1L1433.2 836.0L1434.9 837.8L1436.6 839.7L1438.2 841.6L1439.9 843.4L1441.6 845.3L1443.2 847.2L1444.9 849.0L1446.7 850.8L1448.4 852.6L1450.2 854.3L1452.1 856.0L1454.0 857.6L1455.8 859.3L1457.7 861.0L1459.5 862.7L1461.2 864.5L1462.9 866.4L1464.5 868.3L1466.1 870.2L1467.8 872.1L1469.5 873.9L1471.2 875.7L1472.9 877.6L1474.6 879.4L1476.3 881.3L1477.9 883.1L1479.5 885.0L1481.1 887.0L1482.7 889.0L1484.2 890.9L1485.7 892.9L1487.3 894.9L1488.8 896.8L1490.5 898.7L1492.2 900.5L1494.0 902.3L1495.8 904.0L1497.6 905.7L1499.5 907.4L1501.3 909.1L1503.2 910.7L1505.0 912.4L1506.8 914.2L1508.6 916.0L1510.3 917.8L1512.0 919.6L1513.7 921.4L1515.4 923.3L1517.1 925.1L1518.8 927.0L1520.5 928.8L1522.2 930.6L1524.0 932.4L1525.8 934.1L1527.6 935.8L1529.5 937.5L1531.3 939.2L1533.1 940.9L1535.0 942.6L1536.8 944.3L1538.7 946.0L1540.5 947.7L1542.3 949.4L1544.2 951.1L1546.0 952.8L1547.8 954.5L1549.6 956.2L1551.5 957.9L1553.3 959.6L1555.1 961.4L1556.9 963.1L1558.7 964.8L1560.6 966.5L1562.4 968.2L1564.2 969.9L1566.0 971.6L1567.9 973.3L1569.8 975.0L1571.7 976.6L1573.6 978.2L1575.6 979.7L1577.6 981.3L1579.5 982.8L1581.5 984.3L1583.5 985.9L1585.5 987.4L1587.4 988.9L1589.4 990.5L1591.4 992.0L1593.4 993.5L1595.3 995.1L1597.3 996.6L1599.3 998.2L1601.2 999.7L1603.2 1001.3L1605.2 1002.8L1607.1 1004.4L1609.1 1006.0L1611.0 1007.6L1612.9 1009.2L1614.8 1010.8L1616.7 1012.4L1618.6 1014.1L1620.5 1015.7L1622.4 1017.3L1624.3 1018.9L1626.2 1020.5L1628.2 1022.1L1630.2 1023.6L1632.3 1024.9L1634.5 1026.1L1636.7 1027.2L1638.9 1028.4L1641.0 1029.8L1643.0 1031.2L1645.0 1032.8L1647.0 1034.4L1648.9 1035.9L1650.9 1037.4L1652.9 1038.9L1655.0 1040.3L1657.1 1041.7L1659.2 1042.9L1661.5 1044.1L1663.7 1045.3L1665.9 1046.3L1668.2 1047.4L1670.5 1048.4L1672.8 1049.4L1675.1 1050.5L1677.3 1051.5L1679.6 1052.6L1681.9 1053.7L1684.1 1054.7L1686.3 1055.9L1688.6 1057.0L1690.8 1058.1L1693.1 1059.2L1695.3 1060.3L1697.6 1061.3L1699.9 1062.4L1702.1 1063.4L1704.4 1064.4L1706.7 1065.4L1709.0 1066.4L1711.3 1067.3L1713.7 1068.3L1716.0 1069.2L1718.3 1070.1L1720.7 1071.0L1723.0 1071.8L1725.4 1072.7L1727.7 1073.5L1730.1 1074.3L1732.5 1075.1L1734.9 1075.9L1737.2 1076.6L1739.6 1077.4L1742.0 1078.1L1744.4 1078.8L1746.8 1079.5L1749.2 1080.2L1751.6 1080.8L1754.1 1081.5L1756.5 1082.1L1758.9 1082.8L1761.3 1083.3L1763.8 1083.9L1766.2 1084.3L1768.7 1084.7L1771.2 1085.1L1773.7 1085.4L1776.2 1085.5L1778.7 1085.7L1781.2 1085.8L1783.7 1085.9L1786.2 1086.1L1788.6 1086.3L1791.1 1086.6L1793.6 1087.0L1796.0 1087.5L1798.5 1088.1L1800.9 1088.9L1803.2 1089.7L1805.6 1090.5L1807.9 1091.4L1810.3 1092.3L1812.6 1093.2L1814.9 1094.1L1817.3 1094.9L1819.6 1095.8L1822.0 1096.5L1824.4 1097.2L1826.8 1097.9L1829.2 1098.6L1831.7 1099.2L1834.1 1099.8L1836.5 1100.4L1839.0 1100.9L1841.4 1101.4L1843.9 1101.9L1846.3 1102.4L1848.8 1102.8L1851.3 1103.1L1853.8 1103.4L1856.2 1103.7L1858.7 1103.9L1861.2 1104.1L1863.7 1104.2L1866.2 1104.4L1868.7 1104.5L1871.2 1104.7L1873.7 1104.9L1876.2 1105.2L1878.7 1105.5L1881.2 1105.9L1883.6 1106.3L1886.1 1106.9L1888.5 1107.5L1890.9 1108.1L1893.3 1108.9L1895.7 1109.6L1898.1 1110.4L1900.4 1111.2L1902.8 1112.0L1905.1 1112.9L1907.5 1113.7L1909.9 1114.5L1912.2 1115.3L1914.6 1116.1L1917.0 1116.9L1919.4 1117.6L1921.8 1118.3L1924.2 1119.0L1926.6 1119.6L1929.0 1120.3L1931.5 1120.9L1933.9 1121.5L1936.3 1122.1L1938.7 1122.7L1941.2 1123.2L1943.6 1123.7L1946.1 1124.1L1948.6 1124.5L1951.0 1124.9L1953.5 1125.2L1956.0 1125.4L1958.5 1125.6L1961.0 1125.8L1963.5 1126.0L1966.0 1126.2"/>
<path stroke="#06067a" d="M140.0 1104.8L142.5 1104.8L145.0 1104.7L147.5 1104.7L150.0 1104.7L152.5 1104.6L155.0 1104.6L157.5 1104.6L160.0 1104.5L162.5 1104.5L165.0 1104.5L167.5 1104.4L170.0 1104.4L172.5 1104.4L175.0 1104.3L177.5 1104.3L180.0 1104.2L182.5 1104.2L185.0 1104.1L187.5 1104.1L190.0 1104.0L192.5 1103.9L195.0 1103.8L197.5 1103.7L200.0 1103.6L202.5 1103.5L205.0 1103.4L207.5 1103.3L210.0 1103.2L212.5 1103.0L215.0 1102.9L217.5 1102.8L220.0 1102.7L222.5 1102.5L225.0 1102.4L227.5 1102.3L230.0 1102.2L232.5 1102.1L235.0 1102.0L237.5 1101.9L240.0 1101.9L242.5 1101.8L245.0 1101.7L247.5 1101.7L250.0 1101.6L252.5 1101.5L255.0 1101.4L257.5 1101.4L260.0 1101.2L262.5 1101.1L265.0 1101.0L267.5 1100.8L270.0 1100.6L272.5 1100.4L274.9 1100.2L277.4 1100.0L279.9 1099.7L282.4 1099.4L284.9 1099.1L287.4 1098.8L289.9 1098.5L292.3 1098.2L294.8 1097.8L297.3 1097.4L299.7 1097.0L302.2 1096.5L304.7 1096.0L307.1 1095.6L309.6 1095.0L312.0 1094.5L314.4 1093.8L316.8 1093.2L319.3 1092.6L321.7 1092.2L324.2 1091.7L326.7 1091.4L329.1 1091.0L331.6 1090.7L334.1 1090.3L336.6 1090.0L339.0 1089.6L341.5 1089.2L344.0 1088.8L346.4 1088.3L348.9 1087.9L351.4 1087.5L353.8 1087.0L356.3 1086.7L358.8 1086.4L361.3 1086.1L363.8 1085.9L366.2 1085.7L368.7 1085.5L371.2 1085.3L373.7 1085.2L376.2 1085.0L378.7 1084.8L381.2 1084.6L383.7 1084.4L386.2 1084.1L388.7 1083.8L391.2 1083.5L393.6 1083.1L396.1 1082.7L398.6 1082.3L401.0 1081.9L403.5 1081.5L406.0 1081.0L408.4 1080.6L410.9 1080.1L413.3 1079.7L415.8 1079.3L418.3 1078.9L420.7 1078.5L423.2 1078.1L425.7 1077.7L428.2 1077.4L430.6 1077.0L433.1 1076.7L435.6 1076.3L438.1 1075.9L440.5 1075.5L443.0 1075.2L445.5 1074.8L447.9 1074.4L450.4 1074.0L452.9 1073.6L455.4 1073.2L457.8 1072.8L460.3 1072.4L462.8 1072.0L465.2 1071.6L467.7 1071.1L470.2 1070.7L472.6 1070.3L475.1 1069.9L477.5 1069.4L480.0 1069.0L482.5 1068.5L484.9 1068.0L487.3 1067.4L489.8 1066.8L492.2 1066.2L494.6 1065.5L497.0 1064.8L499.4 1064.1L501.8 1063.3L504.1 1062.5L506.5 1061.6L508.8 1060.7L511.1 1059.8L513.4 1058.8L515.8 1057.9L518.1 1056.9L520.4 1056.0L522.7 1055.1L525.0 1054.1L527.4 1053.3L529.7 1052.4L532.1 1051.6L534.5 1050.9L536.9 1050.3L539.4 1049.9L541.9 1049.5L544.4 1049.3L546.8 1049.2L549.3 1049.1L551.8 1049.0L554.3 1049.0L556.8 1049.1L559.3 1049.2L561.8 1049.4L564.3 1050.0L566.6 1050.9L568.8 1052.1L570.8 1053.5L572.9 1054.9L575.0 1056.2L577.2 1057.5L579.3 1058.8L581.5 1060.1L583.7 1061.3L585.8 1062.6L588.0 1063.8L590.2 1064.9L592.4 1066.2L594.6 1067.4L596.8 1068.6L599.0 1069.8L601.3 1070.7L603.7 1071.4L606.2 1071.7L608.7 1071.5L611.1 1070.9L613.3 1069.8L615.4 1068.3L617.3 1066.7L619.0 1064.9L620.6 1063.0L622.1 1061.0L623.5 1058.9L624.8 1056.8L626.1 1054.7L627.4 1052.5L628.6 1050.3L629.9 1048.2L631.1 1046.0L632.4 1043.9L633.7 1041.7L635.0 1039.6L636.4 1037.5L637.7 1035.3L639.0 1033.2L640.3 1031.1L641.7 1029.0L643.2 1027.0L644.8 1025.1L646.5 1023.3L648.4 1021.7L650.6 1020.4L652.8 1019.3L655.1 1018.3L657.4 1017.4L659.8 1016.5L662.2 1015.8L664.6 1015.4L667.1 1015.3L669.6 1015.6L672.1 1016.2L674.4 1016.9L676.8 1017.8L679.1 1018.7L681.4 1019.7L683.7 1020.8L686.0 1021.8L688.4 1022.5L690.8 1023.0L693.3 1023.3L695.8 1023.5L698.3 1023.6L700.8 1023.6L703.3 1023.6L705.8 1023.6L708.3 1023.5L710.8 1023.3L713.3 1023.1L715.7 1022.7L718.2 1022.2L720.6 1021.6L723.0 1020.9L725.4 1020.2L727.8 1019.5L730.2 1018.8L732.6 1018.2L735.1 1017.6L737.6 1017.2L740.0 1016.9L742.5 1016.7L745.0 1016.5L747.5 1016.3L750.0 1016.3L752.5 1016.2L755.0 1016.1L757.5 1016.1L760.0 1016.0L762.5 1015.9L765.0 1015.8L767.5 1015.6L770.0 1015.3L772.5 1015.0L774.9 1014.5L777.4 1014.1L779.9 1013.7L782.3 1013.3L784.8 1013.0L787.3 1012.8L789.8 1012.6L792.3 1012.5L794.8 1012.4L797.3 1012.4L799.8 1012.3L802.3 1012.3L804.8 1012.2L807.3 1012.2L809.8 1012.2L812.3 1012.2L814.8 1012.2L817.3 1012.2L819.8 1012.2L822.3 1012.3L824.8 1012.3L827.3 1012.4L829.8 1012.4L832.3 1012.6L834.8 1012.8L837.2 1013.3L839.6 1014.0L842.0 1014.9L844.4 1015.6L846.8 1016.1L849.3 1016.3L851.8 1016.5L854.3 1016.5L856.8 1016.6L859.3 1016.7L861.8 1016.7L864.3 1016.7L866.8 1016.7L869.3 1016.8L871.8 1016.8L874.3 1016.7L876.8 1016.7L879.3 1016.7L881.8 1016.6L884.3 1016.6L886.8 1016.5L889.3 1016.4L891.8 1016.2L894.3 1016.0L896.8 1015.6L899.2 1015.0L901.6 1014.2L904.0 1013.4L906.4 1012.8L908.8 1012.4L911.3 1012.1L913.8 1011.9L916.3 1011.7L918.8 1011.5L921.3 1011.3L923.8 1011.1L926.3 1010.7L928.7 1010.3L931.2 1009.8L933.6 1009.2L936.0 1008.6L938.5 1008.0L940.9 1007.2L943.2 1006.5L945.6 1005.7L948.0 1004.8L950.3 1003.9L952.6 1002.9L954.9 1001.9L957.1 1000.8L959.3 999.6L961.5 998.4L963.7 997.2L965.9 996.1L968.2 995.0L970.4 993.9L972.7 992.9L975.1 992.0L977.4 991.2L979.8 990.4L982.2 989.6L984.6 988.9L987.0 988.2L989.4 987.5L991.8 986.8L994.2 986.2L996.6 985.6L999.0 984.9L1001.5 984.3L1003.9 983.7L1006.3 983.1L1008.8 982.7L1011.3 982.3L1013.7 982.1L1016.2 982.1L1018.7 982.2L1021.2 982.6L1023.7 983.1L1026.1 983.7L1028.5 984.3L1030.9 985.0L1033.3 985.6L1035.7 986.3L1038.2 987.0L1040.6 987.6L1043.0 988.3L1045.4 989.0L1047.8 989.8L1050.1 990.5L1052.5 991.3L1054.9 992.2L1057.2 993.0L1059.6 993.9L1061.9 994.8L1064.2 995.7L1066.5 996.6L1068.9 997.6L1071.2 998.5L1073.5 999.4L1075.8 1000.4L1078.1 1001.3L1080.4 1002.3L1082.7 1003.3L1085.1 1004.2L1087.4 1005.2L1089.7 1006.2L1092.0 1007.2L1094.2 1008.2L1096.5 1009.2L1098.8 1010.2L1101.1 1011.2L1103.4 1012.2L1105.7 1013.2L1108.0 1014.2L1110.3 1015.2L1112.6 1016.1L1114.9 1017.1L1117.2 1018.1L1119.5 1019.1L1121.8 1020.1L1124.1 1021.1L1126.4 1022.0L1128.7 1023.0L1131.0 1024.0L1133.3 1024.9L1135.6 1025.9L1137.9 1026.8L1140.3 1027.8L1142.6 1028.7L1144.9 1029.7L1147.2 1030.6L1149.5 1031.6L1151.8 1032.5L1154.2 1033.4L1156.5 1034.3L1158.8 1035.2L1161.2 1036.1L1163.5 1037.0L1165.8 1037.9L1168.2 1038.8L1170.5 1039.7L1172.9 1040.5L1175.2 1041.4L1177.6 1042.3L1179.9 1043.1L1182.3 1043.9L1184.6 1044.7L1187.0 1045.5L1189.4 1046.3L1191.8 1047.0L1194.2 1047.7L1196.6 1048.4L1199.0 1049.0L1201.5 1049.6L1203.9 1050.1L1206.4 1050.5L1208.8 1051.0L1211.3 1051.4L1213.8 1051.8L1216.2 1052.2L1218.7 1052.6L1221.2 1053.0L1223.6 1053.3L1226.1 1053.7L1228.6 1053.9L1231.1 1054.1L1233.6 1054.2L1236.1 1054.2L1238.6 1054.0L1241.1 1053.6L1243.5 1053.2L1246.0 1052.7L1248.4 1052.2L1250.9 1051.7L1253.3 1051.2L1255.8 1050.8L1258.3 1050.4L1260.7 1050.0L1263.2 1049.6L1265.7 1049.1L1268.1 1048.7L1270.6 1048.3L1273.1 1047.8L1275.5 1047.4L1278.0 1046.9L1280.4 1046.4L1282.9 1045.9L1285.3 1045.3L1287.7 1044.7L1290.2 1044.1L1292.6 1043.5L1295.0 1042.8L1297.4 1042.1L1299.8 1041.4L1302.2 1040.7L1304.6 1039.9L1307.0 1039.2L1309.3 1038.4L1311.7 1037.7L1314.1 1036.9L1316.5 1036.2L1318.9 1035.4L1321.3 1034.7L1323.7 1034.0L1326.1 1033.2L1328.4 1032.5L1330.8 1031.8L1333.2 1031.0L1335.6 1030.3L1338.0 1029.6L1340.4 1028.9L1342.8 1028.1L1345.2 1027.4L1347.6 1026.7L1350.0 1026.0L1352.4 1025.3L1354.8 1024.5L1357.2 1023.8L1359.6 1023.1L1362.0 1022.4L1364.4 1021.7L1366.8 1021.0L1369.2 1020.3L1371.6 1019.6L1374.0 1018.9L1376.4 1018.2L1378.8 1017.5L1381.2 1016.9L1383.6 1016.2L1386.0 1015.6L1388.5 1015.0L1390.9 1014.4L1393.3 1013.8L1395.8 1013.3L1398.2 1012.8L1400.7 1012.3L1403.1 1011.9L1405.6 1011.5L1408.1 1011.1L1410.6 1010.7L1413.0 1010.4L1415.5 1010.0L1418.0 1009.7L1420.5 1009.4L1422.9 1009.1L1425.4 1008.7L1427.9 1008.4L1430.4 1008.1L1432.9 1007.8L1435.3 1007.5L1437.8 1007.2L1440.3 1006.9L1442.8 1006.6L1445.3 1006.4L1447.8 1006.1L1450.3 1005.8L1452.7 1005.5L1455.2 1005.2L1457.7 1004.8L1460.2 1004.4L1462.6 1003.9L1465.0 1003.3L1467.5 1002.7L1469.9 1002.1L1472.3 1001.6L1474.8 1001.1L1477.3 1000.7L1479.7 1000.4L1482.2 1000.1L1484.7 1000.0L1487.2 999.8L1489.7 999.8L1492.2 999.7L1494.7 999.7L1497.2 999.7L1499.7 999.7L1502.2 999.7L1504.7 999.7L1507.2 999.8L1509.7 999.9L1512.2 1000.1L1514.7 1000.4L1517.2 1000.7L1519.7 1001.1L1522.1 1001.5L1524.6 1002.0L1527.0 1002.6L1529.4 1003.2L1531.8 1003.9L1534.2 1004.7L1536.6 1005.5L1538.9 1006.4L1541.2 1007.3L1543.5 1008.3L1545.8 1009.3L1548.1 1010.3L1550.3 1011.4L1552.6 1012.6L1554.7 1013.8L1556.9 1015.1L1558.9 1016.6L1560.9 1018.1L1562.8 1019.7L1564.6 1021.5L1566.4 1023.2L1568.2 1025.0L1570.0 1026.7L1571.9 1028.3L1573.8 1029.9L1575.8 1031.5L1577.8 1033.0L1579.8 1034.5L1581.7 1036.0L1583.6 1037.6L1585.5 1039.3L1587.2 1041.1L1588.9 1042.9L1590.5 1044.9L1592.1 1046.8L1593.6 1048.8L1595.1 1050.8L1596.6 1052.8L1598.0 1054.9L1599.4 1057.0L1600.7 1059.1L1602.0 1061.3L1603.3 1063.4L1604.6 1065.5L1606.1 1067.5L1607.8 1069.4L1609.5 1071.2L1611.4 1072.8L1613.3 1074.5L1615.2 1076.0L1617.2 1077.5L1619.3 1078.9L1621.4 1080.3L1623.5 1081.6L1625.7 1082.9L1627.9 1084.0L1630.2 1085.1L1632.5 1086.0L1634.8 1086.8L1637.2 1087.6L1639.6 1088.3L1642.0 1088.9L1644.5 1089.6L1646.9 1090.1L1649.3 1090.7L1651.8 1091.1L1654.3 1091.4L1656.8 1091.7L1659.3 1091.9L1661.8 1092.1L1664.3 1092.2L1666.8 1092.3L1669.3 1092.3L1671.8 1092.4L1674.3 1092.4L1676.8 1092.4L1679.3 1092.5L1681.8 1092.5L1684.3 1092.5L1686.8 1092.5L1689.3 1092.5L1691.8 1092.5L1694.3 1092.5L1696.8 1092.5L1699.3 1092.5L1701.8 1092.5L1704.3 1092.5L1706.8 1092.5L1709.3 1092.5L1711.8 1092.5L1714.3 1092.4L1716.8 1092.4L1719.3 1092.4L1721.8 1092.4L1724.3 1092.4L1726.8 1092.4L1729.3 1092.4L1731.8 1092.5L1734.3 1092.7L1736.7 1093.1L1739.2 1093.6L1741.7 1093.6L1744.2 1093.2L1746.6 1093.1L1749.1 1093.0L1751.6 1093.0L1754.1 1093.0L1756.7 1092.9L1759.2 1092.9L1761.7 1092.9L1764.2 1092.9L1766.7 1092.9L1769.2 1092.9L1771.7 1092.9L1774.2 1092.9L1776.7 1092.9L1779.2 1093.0L1781.7 1093.0L1784.2 1093.0L1786.7 1093.0L1789.2 1093.0L1791.7 1093.0L1794.2 1093.0L1796.7 1093.0L1799.2 1093.1L1801.7 1093.1L1804.2 1093.1L1806.7 1093.1L1809.2 1093.2L1811.7 1093.2L1814.2 1093.2L1816.7 1093.3L1819.2 1093.3L1821.7 1093.4L1824.2 1093.5L1826.7 1093.7L1829.1 1094.1L1831.6 1094.7L1834.0 1095.2L1836.5 1095.4L1839.0 1095.5L1841.5 1095.6L1844.0 1095.7L1846.5 1095.7L1849.0 1095.7L1851.5 1095.7L1854.0 1095.8L1856.5 1095.8L1859.0 1095.8L1861.5 1095.8L1864.0 1095.8L1866.5 1095.8L1869.0 1095.8L1871.5 1095.8L1874.0 1095.8L1876.5 1095.8L1879.0 1095.7L1881.5 1095.7L1884.0 1095.7L1886.5 1095.6L1889.0 1095.5L1891.5 1095.2L1893.7 1094.2L1896.0 1093.2L1898.5 1092.8L1901.0 1092.7L1903.5 1092.7L1906.0 1092.7L1908.5 1092.6L1911.0 1092.6L1913.5 1092.6L1916.0 1092.6L1918.5 1092.6L1921.0 1092.6L1923.5 1092.6L1926.0 1092.6L1928.5 1092.6L1931.0 1092.6L1933.5 1092.6L1936.0 1092.6L1938.5 1092.7L1941.0 1092.7L1943.5 1092.7L1946.0 1092.7L1948.5 1092.7L1951.0 1092.7L1953.5 1092.7L1956.0 1092.8L1958.5 1092.8L1961.0 1092.8L1963.5 1092.8L1966.0 1092.8"/>
</g>
<rect x="139" y="48" width="1830" height="1126" fill="none" stroke="#000" stroke-width="8.5" stroke-linejoin="miter"/>
<g fill="#000"><rect x="265.6" y="1161" width="9" height="13"/><rect x="395.7" y="1148" width="10" height="26"/><rect x="526.8" y="1161" width="9" height="13"/><rect x="656.9" y="1148" width="10" height="26"/><rect x="788.0" y="1161" width="9" height="13"/><rect x="918.1" y="1148" width="10" height="26"/><rect x="1049.2" y="1161" width="9" height="13"/><rect x="1179.3" y="1148" width="10" height="26"/><rect x="1310.4" y="1161" width="9" height="13"/><rect x="1440.5" y="1148" width="10" height="26"/><rect x="1571.6" y="1161" width="9" height="13"/><rect x="1701.7" y="1148" width="10" height="26"/><rect x="1832.8" y="1161" width="9" height="13"/></g>
<g stroke-width="7.6" stroke-linecap="round">
<line x1="171" y1="114.5" x2="331" y2="114.5" stroke="#06067a"/>
<line x1="171" y1="213.5" x2="331" y2="213.5" stroke="#c80808"/>
<line x1="171" y1="311" x2="331" y2="311" stroke="#037803"/>
</g>
<text transform="translate(0 1233.30) scale(1.2057 1)" x="69.55 100.84 131.65" y="0" font-family='"DejaVu Serif", serif' font-size="42.71" font-weight="bold" fill="#000" stroke="#000" stroke-width="0.00">100</text>
<text transform="translate(0 1233.30) scale(1.2057 1)" x="287.15 317.47 348.29" y="0" font-family='"DejaVu Serif", serif' font-size="42.71" font-weight="bold" fill="#000" stroke="#000" stroke-width="0.00">200</text>
<text transform="translate(0 1233.30) scale(1.2057 1)" x="503.17 534.11 564.92" y="0" font-family='"DejaVu Serif", serif' font-size="42.71" font-weight="bold" fill="#000" stroke="#000" stroke-width="0.00">300</text>
<text transform="translate(0 1233.30) scale(1.2057 1)" x="719.93 750.74 781.55" y="0" font-family='"DejaVu Serif", serif' font-size="42.71" font-weight="bold" fill="#000" stroke="#000" stroke-width="0.00">400</text>
<text transform="translate(0 1233.30) scale(1.2057 1)" x="936.43 967.38 998.19" y="0" font-family='"DejaVu Serif", serif' font-size="42.71" font-weight="bold" fill="#000" stroke="#000" stroke-width="0.00">500</text>
<text transform="translate(0 1233.30) scale(1.2057 1)" x="1153.00 1184.01 1214.82" y="0" font-family='"DejaVu Serif", serif' font-size="42.71" font-weight="bold" fill="#000" stroke="#000" stroke-width="0.00">600</text>
<text transform="translate(0 1233.30) scale(1.2057 1)" x="1369.91 1400.64 1431.45" y="0" font-family='"DejaVu Serif", serif' font-size="42.71" font-weight="bold" fill="#000" stroke="#000" stroke-width="0.00">700</text>
<text transform="translate(0 1233.30) scale(1.2057 1)" x="1586.51 1617.28 1648.09" y="0" font-family='"DejaVu Serif", serif' font-size="42.71" font-weight="bold" fill="#000" stroke="#000" stroke-width="0.00">800</text>
<text transform="translate(0 1297.60) scale(1.2738 1)" x="639.03 665.64 687.25 727.59 752.32 774.19 795.95 818.48 838.37 862.35 879.69" y="0" font-family='"DejaVu Serif", serif' font-size="40.74" font-weight="normal" fill="#000" stroke="#000" stroke-width="1.40">Temperature</text>
<text transform="translate(0 1297.60) scale(1.3500 1)" x="864.69" y="0" font-family='"DejaVu Serif", serif' font-size="41.56" font-weight="normal" fill="#000" stroke="#000" stroke-width="0.90">(</text>
<text transform="translate(0 1275.40) scale(1.3041 1)" x="912.27" y="0" font-family='"DejaVu Serif", serif' font-size="25.82" font-weight="normal" fill="#000" stroke="#000" stroke-width="0.90">o</text>
<text transform="translate(0 1297.60) scale(1.0789 1)" x="1119.63" y="0" font-family='"DejaVu Serif", serif' font-size="41.56" font-weight="normal" fill="#000" stroke="#000" stroke-width="0.90">C</text>
<text transform="translate(0 1297.60) scale(1.3500 1)" x="917.69" y="0" font-family='"DejaVu Serif", serif' font-size="41.56" font-weight="normal" fill="#000" stroke="#000" stroke-width="0.90">)</text>
<text transform="translate(78.40 0) rotate(-90) scale(1 1.4457)" x="-748.30 -729.13 -703.16 -685.72 -656.43 -631.76 -604.91 -590.51 -574.11" y="0" font-family='"DejaVu Serif", serif' font-size="36.72" font-weight="normal" fill="#000" stroke="#000" stroke-width="1.40">Intensity</text>
<text transform="translate(78.40 0) rotate(-90) scale(1 1.4458)" x="-535.98 -518.02 -490.86 -479.66 -451.56 -438.14" y="0" font-family='"DejaVu Serif", serif' font-size="35.85" font-weight="normal" fill="#000" stroke="#000" stroke-width="0.30">(a.u.)</text>
<text transform="translate(0 130.30) scale(1.1216 1)" x="308.98 349.43 382.90 433.02" y="0" font-family='"DejaVu Serif", serif' font-size="53.50" font-weight="bold" fill="#000" stroke="#000" stroke-width="0.00">LaNi</text>
<text transform="translate(0 130.30) scale(1.2118 1)" x="470.55 508.76" y="0" font-family='"DejaVu Serif", serif' font-size="53.50" font-weight="bold" fill="#000" stroke="#000" stroke-width="0.00">Zr</text>
<text transform="translate(0 130.30) scale(1.2246 1)" x="584.01" y="0" font-family='"DejaVu Serif", serif' font-size="53.50" font-weight="bold" fill="#000" stroke="#000" stroke-width="0.00">O</text>
<text transform="translate(0 150.80) scale(1.3181 1)" x="385.69 404.78 414.62" y="0" font-family='"DejaVu Serif", serif' font-size="30.81" font-weight="bold" fill="#000" stroke="#000" stroke-width="0.00">0.9</text>
<text transform="translate(0 150.80) scale(1.3497 1)" x="483.01 501.85 509.56" y="0" font-family='"DejaVu Serif", serif' font-size="30.81" font-weight="bold" fill="#000" stroke="#000" stroke-width="0.00">0.1</text>
<text transform="translate(0 150.80) scale(1.4209 1)" x="540.12" y="0" font-family='"DejaVu Serif", serif' font-size="30.81" font-weight="bold" fill="#000" stroke="#000" stroke-width="0.00">3</text>
<text transform="translate(0 230.30) scale(1.0825 1)" x="320.57 363.94 400.58 449.33" y="0" font-family='"DejaVu Serif", serif' font-size="53.50" font-weight="bold" fill="#000" stroke="#000" stroke-width="0.00">CeNi</text>
<text transform="translate(0 230.30) scale(1.1677 1)" x="492.07 531.55" y="0" font-family='"DejaVu Serif", serif' font-size="53.50" font-weight="bold" fill="#000" stroke="#000" stroke-width="0.00">Zr</text>
<text transform="translate(0 230.30) scale(1.1960 1)" x="600.92" y="0" font-family='"DejaVu Serif", serif' font-size="53.50" font-weight="bold" fill="#000" stroke="#000" stroke-width="0.00">O</text>
<text transform="translate(0 250.80) scale(1.3209 1)" x="384.85 404.36 415.49" y="0" font-family='"DejaVu Serif", serif' font-size="30.81" font-weight="bold" fill="#000" stroke="#000" stroke-width="0.00">0.9</text>
<text transform="translate(0 250.80) scale(1.3121 1)" x="497.18 516.82 526.75" y="0" font-family='"DejaVu Serif", serif' font-size="30.81" font-weight="bold" fill="#000" stroke="#000" stroke-width="0.00">0.1</text>
<text transform="translate(0 250.80) scale(1.4209 1)" x="542.58" y="0" font-family='"DejaVu Serif", serif' font-size="30.81" font-weight="bold" fill="#000" stroke="#000" stroke-width="0.00">3</text>
<text transform="translate(0 329.80) scale(1.0265 1)" x="339.19 383.32 418.89 467.23" y="0" font-family='"DejaVu Serif", serif' font-size="53.50" font-weight="bold" fill="#000" stroke="#000" stroke-width="0.00">CsNi</text>
<text transform="translate(0 329.80) scale(1.1556 1)" x="492.40 531.73" y="0" font-family='"DejaVu Serif", serif' font-size="53.50" font-weight="bold" fill="#000" stroke="#000" stroke-width="0.00">Zr</text>
<text transform="translate(0 329.80) scale(1.1936 1)" x="597.26" y="0" font-family='"DejaVu Serif", serif' font-size="53.50" font-weight="bold" fill="#000" stroke="#000" stroke-width="0.00">O</text>
<text transform="translate(0 350.30) scale(1.3169 1)" x="383.81 403.37 412.77" y="0" font-family='"DejaVu Serif", serif' font-size="30.81" font-weight="bold" fill="#000" stroke="#000" stroke-width="0.00">0.9</text>
<text transform="translate(0 350.30) scale(1.2710 1)" x="511.79 531.85 539.02" y="0" font-family='"DejaVu Serif", serif' font-size="30.81" font-weight="bold" fill="#000" stroke="#000" stroke-width="0.00">0.1</text>
<text transform="translate(0 350.30) scale(1.3516 1)" x="566.23" y="0" font-family='"DejaVu Serif", serif' font-size="30.81" font-weight="bold" fill="#000" stroke="#000" stroke-width="0.00">3</text>
</svg></body></html>
